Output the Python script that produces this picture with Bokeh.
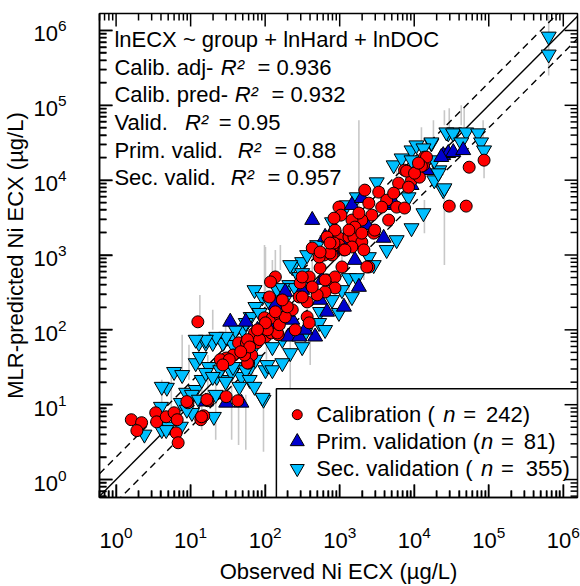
from bokeh.plotting import figure
from bokeh.models import FixedTicker, Label, Range1d
from bokeh.embed import file_html
from bokeh.resources import INLINE

# ---------------- data (observed, predicted) in ug/L ----------------
calib_obs = [1.6, 2.2, 1.9, 3.4, 3.5, 4.7, 6.0, 6.6, 6.4, 6.8, 9.2, 13.7, 15, 17, 30, 43,
             44, 56, 38, 30, 60, 66, 77, 101, 121, 150, 8.9, 16.5, 14, 12.5, 137, 118,
             114, 98, 125, 160, 231, 366, 390, 253, 146, 107, 72, 58, 37, 30, 25, 58,
             53, 84, 428, 617, 789, 977, 1330, 1860, 2460, 2860, 546, 676, 865, 865,
             637, 498, 390, 295, 287, 366, 155, 741, 1072, 2310, 977, 1550, 1980, 977,
             1040, 2170, 3340, 4270, 5810, 7420, 3660, 2700, 1980, 1460, 1600, 1980,
             2950, 4540, 6170, 7420, 9200, 11750, 13700, 13300, 29500, 49800, 865, 676,
             839, 54600, 86500, 14600, 12500, 7890,
             186, 839, 1140, 1460, 2110, 530, 314, 198, 170, 137, 101, 79, 62, 47, 33, 27,
             546, 741, 1330, 1810, 2460, 5300, 8390, 10100, 11400, 1175, 314, 637, 428]
calib_pred = [6.3, 5.75, 4.5, 7.8, 5.9, 6.9, 7.8, 6.3, 4.2, 3.1, 10.6, 6.3, 7.1, 11.3, 12.8, 11.3,
              67, 67, 46, 40, 36, 46, 67, 81, 91, 86, 11, 11.7, 6.9, 128, 509, 437,
              275, 145, 145, 149, 185, 149, 124, 100, 91, 100, 91, 74, 46, 42, 40, 36,
              46, 74, 1240, 1000, 1000, 1690, 1740, 1445, 692, 1960, 671, 464, 509, 363,
              321, 293, 509, 424, 275, 236, 117, 1064, 692, 692, 1360, 1740, 1490, 4365,
              3410, 7360, 6920, 5410, 4365, 4240, 4365, 3410, 2930, 2930, 2360, 1960,
              2150, 2930, 9120, 13600, 10000, 10960, 20300, 15850, 4500, 4500, 2150, 1740,
              3110, 14900, 18500, 20300, 15400, 13200,
              149, 1445, 1170, 1280, 1170, 940, 275, 203, 251, 174, 124, 100, 59, 51, 40, 34,
              1096, 1445, 2150, 3630, 4930, 6710, 8070, 12400, 16900, 1170, 509, 464, 374]

prim_obs = [16, 30, 48, 204, 34, 55, 186, 287, 468, 637, 1600, 3890, 428, 1460, 1980, 719,
            24500, 28600, 33400, 23100, 45400, 137, 231, 546, 79, 92, 198, 314, 581, 1072,
            2310, 4980, 9200, 14600, 137, 344, 676, 1140, 1810, 839, 1140, 5300]
prim_pred = [11, 10.6, 10.6, 81, 128, 128, 321, 81, 81, 1740, 857, 1690, 2930, 4640, 5750, 1690,
             21500, 22900, 23600, 20300, 25100, 215, 136, 251, 100, 100, 174, 341, 464, 1170,
             2510, 4640, 8570, 13600, 110, 100, 174, 203, 374, 2150, 1585, 4930]

sec_obs = [2.4, 4.0, 4.1, 5.1, 7.4, 8.7, 10.4, 11.7, 20.5, 95, 4.8, 4.1, 6.0, 7.7, 11.7, 12.9,
           16, 20.4, 27.8, 34, 40, 48, 64, 74, 101, 217, 14.1, 21.7, 10.4, 12.9, 7.4, 8.9,
           4.7, 17.5, 22.4, 30.5, 35.5, 44, 55, 74, 72, 92, 74, 64, 231, 287, 211, 1330,
           2460, 107, 55, 37, 25, 16, 13.3, 19.8, 27, 62, 92, 125, 13300, 24500, 18600,
           17000, 28600, 34400, 21700, 8390, 27000, 33200, 49800, 71900, 17000, 78900,
           86500, 42700, 25400, 21100, 637000, 637000, 125, 146, 181, 314, 366, 498,
           789, 1250, 1700, 3140, 5300, 6770, 9200, 10700, 546, 789,
           1072, 1700, 2860, 4270, 5810, 9200, 50, 37, 68, 125, 170, 530, 344,
           217, 314, 344, 253, 170, 114, 84, 55, 40, 30, 22, 16, 11.7, 19.8, 29.5, 45, 72,
           125, 170, 314, 637, 977, 1460, 13300, 9200, 18600]
sec_pred = [4.0, 9.4, 4.6, 5.1, 5.1, 14.5, 7.8, 15.8, 6.9, 11.7, 16.9, 17.4, 27.5, 25, 36, 67,
            67, 74, 69, 78, 32, 23.6, 32, 40, 29, 49, 21.5, 13.6, 13.6, 11.7, 10.6, 8.6,
            4.6, 32, 23.6, 21.5, 26.7, 54, 67, 74, 341, 275, 203, 149, 692, 509, 398, 493,
            940, 34, 29, 32, 29, 26.7, 43.6, 67, 67, 21.5, 12.4, 59, 3630, 7360, 10000,
            31100, 42400, 43650, 13600, 5930, 43650, 42400, 43650, 42400, 32100, 32100,
            25100, 32100, 7820, 12400, 832000, 479000, 251, 341, 251, 807, 1000, 1360,
            2750, 4640, 5930, 9400, 15850, 19600, 25100, 29300, 174, 251,
            341, 493, 736, 1170, 1585, 2290, 100, 63, 54, 100, 74, 124, 91,
            736, 575, 424, 363, 363, 236, 169, 124, 100, 81, 81, 74, 74, 23.6, 20.3, 17.4, 17.4,
            29, 36, 59, 100, 169, 275, 26700, 18500, 18500]

# grey uncertainty bars: observed value, lower and upper predicted bound
err_obs = [101, 137, 1810, 25400, 13700, 29500, 46800, 84000, 18100, 86500, 637000, 98, 160,
           125, 13.3, 19.8, 29.5, 217, 402, 1330, 2110, 7.7, 9.5, 14.1, 21.7, 35.5, 44, 55,
           95, 104, 25400, 42700, 12500, 4.1, 5.5, 17, 68, 546, 789, 3660, 5810, 428, 1072]
err_lo = [136, 398, 2150, 736, 1960, 34100, 39800, 29300, 34100, 10600, 251000, 251, 631,
          251, 136, 100, 74, 11.7, 34, 185, 464, 29, 21.5, 4.6, 3.4, 3.4, 2.9, 2.5,
          2.36, 40, 54100, 54100, 32100, 6.3, 8.6, 13.6, 18.5, 857, 1170, 3410, 5410, 341, 541]
err_hi = [1280, 1170, 63000, 7360, 5410, 91200, 94000, 63000, 63000, 25100, 1580000, 1360, 1360,
          857, 293, 185, 136, 110, 74, 464, 736, 86, 63, 29, 21.5, 18.5, 15.8, 13.6,
          11.7, 100, 85700, 100000, 51000, 21.5, 25, 46, 46, 1850, 3410, 6310, 13600, 1000, 1585]

major_ticks = [1, 10, 100, 1000, 10000, 100000, 1000000]
minor_ticks = [m * 10 ** e for e in range(-1, 7) for m in range(2, 10)]

legend_labels = [("Calibration (", "n", "=", "242)"),
                 ("Prim. validation (", "n", "=", "81)"),
                 ("Sec. validation (", "n", "=", "355)")]
stats_lines = [("lnECX ~ group + lnHard + lnDOC", "", ""),
               ("Calib. adj- ", "R\u00b2", "= 0.936"),
               ("Calib. pred- ", "R\u00b2", "= 0.932"),
               ("Valid.", "R\u00b2", "= 0.95"),
               ("Prim. valid.", "R\u00b2", "= 0.88"),
               ("Sec. valid.", "R\u00b2", "= 0.957")]

# ---------------- layout helpers (page px -> data via the log scales) ----------------
DEC = 75.0          # pixels per decade
X_ONE = 112.7       # page x of 10^0
Y_ONE = 480.0       # page y of 10^0


def px2x(px):
    return 10 ** ((px - X_ONE) / DEC)


def py2y(py):
    return 10 ** ((Y_ONE - py) / DEC)


FONT = "Liberation Sans"
x_start, x_end = px2x(96), px2x(577)
y_start, y_end = py2y(498), py2y(13)

p = figure(width=580, height=586, x_axis_type="log", y_axis_type="log",
           x_range=Range1d(x_start, x_end), y_range=Range1d(y_start, y_end),
           output_backend="svg", toolbar_location=None,
           min_border_left=96, min_border_right=3, min_border_top=13, min_border_bottom=88)
p.xgrid.visible = False
p.ygrid.visible = False
p.outline_line_color = "black"
p.outline_line_width = 1.5
p.outline_line_alpha = 1.0

bottom_ax = p.below[0]
left_ax = p.left[0]
ticker = FixedTicker(ticks=major_ticks, minor_ticks=minor_ticks)
for ax in [bottom_ax, left_ax]:
    ax.ticker = ticker
    ax.major_tick_in = 13
    ax.major_tick_out = 0
    ax.minor_tick_in = 7
    ax.minor_tick_out = 0
    ax.major_tick_line_color = "black"
    ax.minor_tick_line_color = "black"
    ax.major_tick_line_width = 1.5
    ax.minor_tick_line_width = 1.5
    ax.axis_line_width = 1.5
    ax.axis_line_color = "black"
    ax.major_label_text_font = FONT
    ax.major_label_text_font_size = "22px"
    ax.major_label_text_color = "black"
    ax.axis_label_text_font = FONT
    ax.axis_label_text_font_size = "22px"
    ax.axis_label_text_font_style = "normal"
    ax.axis_label_text_color = "black"
bottom_ax.major_label_standoff = 28
left_ax.major_label_standoff = 33
bottom_ax.axis_label = "Observed Ni ECX (\u00b5g/L)"
left_ax.axis_label = "MLR-predicted Ni ECX (\u00b5g/L)"
bottom_ax.axis_label_standoff = 8
left_ax.axis_label_standoff = 2

# error bars
p.segment(x0=err_obs, y0=err_lo, x1=err_obs, y1=err_hi, line_color="#c8c8c8", line_width=1.6)

# 1:1 and factor-of-2 lines
line_x = [x_start, x_end]
p.line(line_x, [v for v in line_x], line_color="black", line_width=1.4)
p.line(line_x, [2 * v for v in line_x], line_color="black", line_width=1.4, line_dash="7 5")
p.line(line_x, [0.5 * v for v in line_x], line_color="black", line_width=1.4, line_dash="7 5")

RED, BLUE, CYAN = "#FF0000", "#0000CD", "#00BFFF"
p.scatter(sec_obs, sec_pred, marker="inverted_triangle", size=15, fill_color=CYAN,
          line_color="black", line_width=1)
p.scatter(prim_obs, prim_pred, marker="triangle", size=15, fill_color=BLUE,
          line_color="black", line_width=1)
p.scatter(calib_obs, calib_pred, marker="circle", size=12, fill_color=RED,
          line_color="black", line_width=1)

# legend box
p.quad(left=[px2x(274)], right=[x_end], top=[py2y(389)], bottom=[y_start],
       fill_color="white", line_color="black", line_width=1.5)

# inward ticks on all four sides as thin filled bars (1.5 px wide)
MAJ = 10 ** (13 / DEC)
MIN = 10 ** (7 / DEC)
HW = 10 ** (0.75 / DEC)
xmaj = [t for t in major_ticks if x_start <= t <= x_end]
xmin = [t for t in minor_ticks if x_start <= t <= x_end]
ymaj = [t for t in major_ticks if y_start <= t <= y_end]
ymin = [t for t in minor_ticks if y_start <= t <= y_end]
qL, qR, qB, qT = [], [], [], []
for xs, ln in [(xmaj, MAJ), (xmin, MIN)]:
    for t in xs:
        qL += [t / HW, t / HW]
        qR += [t * HW, t * HW]
        qB += [y_start, y_end / ln]
        qT += [y_start * ln, y_end]
for ys, ln in [(ymaj, MAJ), (ymin, MIN)]:
    for t in ys:
        qL += [x_start, x_end / ln]
        qR += [x_start * ln, x_end]
        qB += [t / HW, t / HW]
        qT += [t * HW, t * HW]
p.quad(left=qL, right=qR, bottom=qB, top=qT, fill_color="black", line_color=None,
       level="overlay")

# stats text
line_y = [39, 67, 94.5, 122.5, 150, 177.5]
r_x = [None, 218, 232, 182, 235, 228]
eq_x = [None, 255, 269, 216, 272, 265]
lab_kw = dict(text_font=FONT, text_font_size="22px", text_baseline="middle", text_align="left",
              text_color="black")
for (a, b, c), yy, rx, ex in zip(stats_lines, line_y, r_x, eq_x):
    p.add_layout(Label(x=px2x(111), y=py2y(yy), text=a, **lab_kw))
    if b:
        p.add_layout(Label(x=px2x(rx), y=py2y(yy), text=b, text_font_style="italic", **lab_kw))
        p.add_layout(Label(x=px2x(ex), y=py2y(yy), text=c, **lab_kw))

# legend entries
leg_y = [415, 442, 469]
leg_n_x = [442, 480, 480]
leg_eq_x = [462, 500, 500]
leg_num_x = [485, 523, 525]
leg_markers = [("circle", RED, 10), ("triangle", BLUE, 14), ("inverted_triangle", CYAN, 14)]
for (a, n, eq, num), yy, nx, ex, mx, (mk, col, sz) in zip(legend_labels, leg_y, leg_n_x, leg_eq_x,
                                                         leg_num_x, leg_markers):
    p.scatter([px2x(295)], [py2y(yy)], marker=mk, size=sz, fill_color=col, line_color="black",
              line_width=1)
    p.add_layout(Label(x=px2x(314), y=py2y(yy), text=a, **lab_kw))
    p.add_layout(Label(x=px2x(nx), y=py2y(yy), text=n, text_font_style="italic", **lab_kw))
    p.add_layout(Label(x=px2x(ex), y=py2y(yy), text=eq, **lab_kw))
    p.add_layout(Label(x=px2x(mx), y=py2y(yy), text=num, **lab_kw))

open("out.html", "w").write(file_html(p, INLINE))
